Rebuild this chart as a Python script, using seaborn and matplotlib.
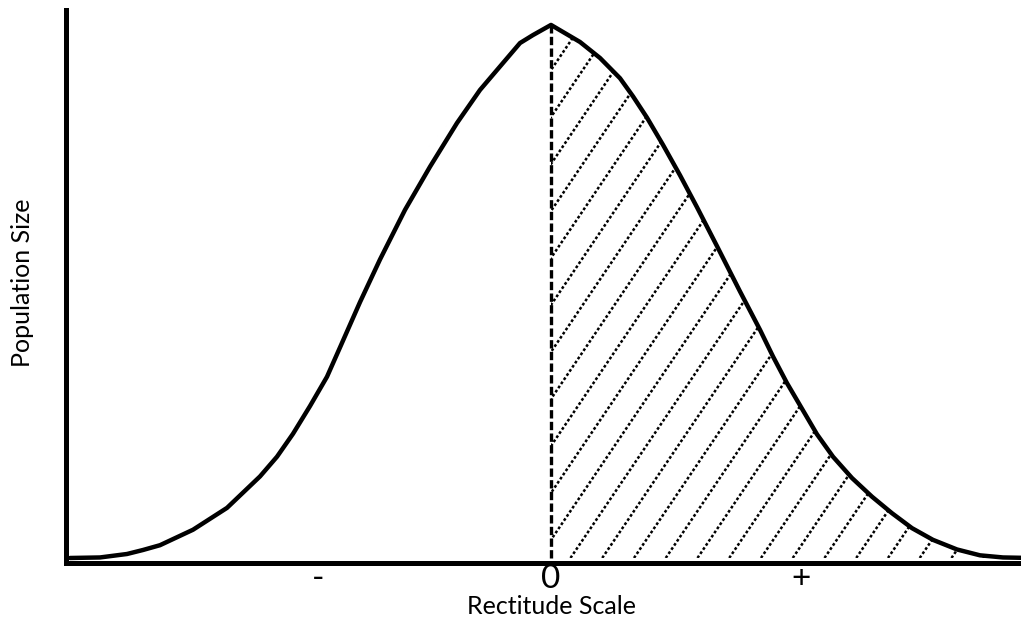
import numpy as np
import pandas as pd
import matplotlib
matplotlib.use("Agg")
import matplotlib.pyplot as plt
from matplotlib.collections import LineCollection
import seaborn as sns

# Distribution of the population along the rectitude scale
rectitude = [-1.924, -1.804, -1.696, -1.632, -1.564, -1.432, -1.296, -1.164, -1.096,
             -1.032, -0.964, -0.896, -0.844, -0.764, -0.684, -0.584, -0.484, -0.376,
             -0.284, -0.204, -0.124, -0.072, 0.000,
             0.116, 0.196, 0.276, 0.328, 0.384, 0.448, 0.516, 0.584, 0.664, 0.756,
             0.836, 0.888, 0.944, 1.004, 1.064, 1.128, 1.204, 1.284, 1.364, 1.444,
             1.528, 1.624, 1.716, 1.808, 1.920]
population = [0.000, 0.001, 0.0075, 0.015, 0.024, 0.053, 0.094, 0.153, 0.190,
              0.233, 0.285, 0.340, 0.395, 0.480, 0.560, 0.653, 0.734, 0.816,
              0.878, 0.922, 0.966, 0.981, 1.000,
              0.968, 0.938, 0.900, 0.866, 0.826, 0.775, 0.718, 0.658, 0.585, 0.500,
              0.428, 0.378, 0.328, 0.280, 0.232, 0.190, 0.150, 0.115, 0.084, 0.056,
              0.034, 0.016, 0.005, 0.001, 0.000]

tick_positions = [-0.93, 0.0, 1.0]
tick_labels = ["-", "0", "+"]
x_label = "Rectitude Scale"
y_label = "Population Size"

sns.set_style("white")
plt.rcParams["font.family"] = ["Lato", "DejaVu Sans"]
plt.rcParams["text.color"] = "black"
plt.rcParams["axes.labelcolor"] = "black"
plt.rcParams["xtick.color"] = "black"

fig = plt.figure(figsize=(10.21, 6.31), dpi=100)
ax = fig.add_axes([66 / 1021, 1 - 563 / 631, 1 - 66 / 1021, (563 - 10) / 631])

df = pd.DataFrame({"Rectitude": rectitude, "Population": population})

# Hatched area for the positive half of the scale
right = df[df["Rectitude"] >= 0]
shade = ax.fill_between(right["Rectitude"], right["Population"], 0,
                        facecolor="none", edgecolor="none")
slope = 0.694
step = 0.127
starts = np.arange(-1.7, 1.95, step)
segments = [[(x0, 0.0), (x0 + 1.2 / slope, 1.2)] for x0 in starts]
hatch = LineCollection(segments, colors="black", linewidths=1.8,
                       linestyles=[(0, (1.1, 0.9))], zorder=1)
ax.add_collection(hatch)
hatch.set_clip_path(shade.get_paths()[0], shade.get_transform())

# Dashed divider at the centre of the scale
peak = df.loc[df["Rectitude"] == 0, "Population"].iloc[0]
ax.vlines(0, 0, peak, colors="black", linestyles=[(0, (2.5, 1.0))],
          linewidth=2.4, zorder=2)

# Bell curve
sns.lineplot(data=df, x="Rectitude", y="Population", color="black",
             linewidth=3.2, ax=ax, zorder=3)

ax.set_xlim(-1.94, 1.88)
ax.set_ylim(-0.0094, 1.028)

ax.set_xticks(tick_positions, tick_labels)
ax.set_yticks([])
ax.tick_params(axis="x", length=0, pad=1, labelsize=24, labelcolor="black")

ax.set_xlabel(x_label, fontsize=18, color="black")
ax.set_ylabel(y_label, fontsize=18, color="black")
ax.xaxis.set_label_coords(0.508, -0.058)
ax.yaxis.set_label_coords(-0.034, 0.506)

for side in ["top", "right"]:
    ax.spines[side].set_visible(False)
for side in ["left", "bottom"]:
    ax.spines[side].set_color("black")
    ax.spines[side].set_linewidth(3.6)

fig.savefig("out.png", dpi=100)
